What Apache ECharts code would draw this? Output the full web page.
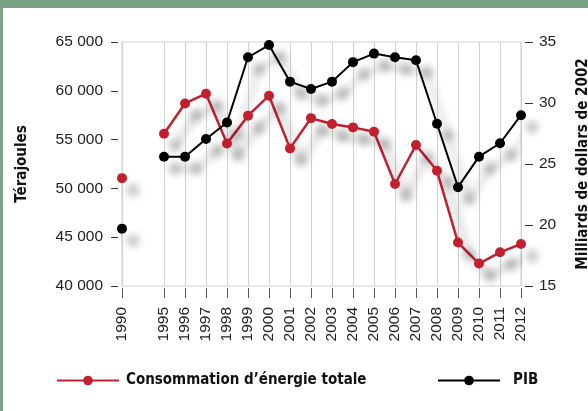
<!DOCTYPE html>
<html>
<head>
<meta charset="utf-8">
<script src="https://cdn.jsdelivr.net/npm/echarts@6/dist/echarts.min.js"></script>
<style>
html,body{margin:0;padding:0;background:#fff;}
#c{width:588px;height:411px;}
</style>
</head>
<body>
<div id="c"></div>
<script>
var years = ['1990', '', '1995', '1996', '1997', '1998', '1999', '2000', '2001', '2002', '2003', '2004', '2005', '2006', '2007', '2008', '2009', '2010', '2011', '2012'];
var energie = [51050, null, 55600, 58700, 59700, 54600, 57450, 59500, 54100, 57200, 56600, 56250, 55800, 50450, 54450, 51800, 44450, 42300, 43450, 44300];
var pib = [19.7, null, 25.6, 25.6, 27.05, 28.4, 33.75, 34.75, 31.75, 31.15, 31.75, 33.35, 34.05, 33.75, 33.5, 28.3, 23.1, 25.6, 26.7, 29.0];
var leftTicks = [40000, 65000, 5000];
var rightTicks = [15, 35, 5];
var names = ['Consommation d\u2019énergie totale', 'PIB', 'Térajoules', 'Milliards de dollars de 2002'];

var numFont = "'Liberation Sans', Arial, sans-serif";
var boldFont = "'DejaVu Sans Condensed', 'DejaVu Sans', sans-serif";
var red = '#c2202f';
var shadow = {shadowColor: 'rgba(0,0,0,0.36)', shadowBlur: 8, shadowOffsetX: 11, shadowOffsetY: 12};

function fmt(v){ return String(v).replace(/\B(?=(\d{3})+(?!\d))/g, ' '); }

var legendText = {fontFamily: boldFont, fontWeight: 'bold', fontSize: 15, color: '#111'};

var chart = echarts.init(document.getElementById('c'), null, {renderer: 'canvas'});
chart.setOption({
  backgroundColor: '#fff',
  animation: false,
  graphic: [
    {type: 'rect', left: 0, top: 0, shape: {width: 588, height: 8}, style: {fill: '#7aa385'}},
    {type: 'rect', left: 0, top: 0, shape: {width: 3, height: 411}, style: {fill: '#7aa385'}}
  ],
  grid: {left: 122, right: 67, top: 42, bottom: 125, outerBoundsMode: 'none', containLabel: false,
    show: true, borderColor: '#d2d2d2', borderWidth: 1, backgroundColor: 'transparent'},
  legend: [
    {left: 51, top: 368, itemWidth: 62, itemHeight: 12, textStyle: Object.assign({padding: [0, 0, 0, 2]}, legendText), data: [names[0]]},
    {left: 432, top: 368, itemWidth: 62, itemHeight: 12, textStyle: Object.assign({padding: [0, 0, 0, 8]}, legendText), data: [names[1]]}
  ],
  xAxis: {
    type: 'category', data: years, boundaryGap: false, offset: 2,
    axisLine: {show: false},
    axisTick: {show: true, length: 10, interval: function(i){ return i !== 1; }, lineStyle: {color: '#555', width: 1}},
    splitLine: {show: true, interval: function(i){ return i !== 1; }, lineStyle: {color: '#d2d2d2', width: 1}},
    axisLabel: {rotate: 90, interval: 0, margin: 19, fontFamily: numFont, fontSize: 15.5, color: '#222'}
  },
  yAxis: [
    {
      type: 'value', min: leftTicks[0], max: leftTicks[1], interval: leftTicks[2], offset: 4,
      name: names[2], nameLocation: 'middle', nameRotate: 90, nameGap: 88,
      nameTextStyle: {fontFamily: boldFont, fontWeight: 'bold', fontSize: 15, color: '#111'},
      axisLine: {show: false}, splitLine: {show: false},
      axisTick: {show: true, length: 7, lineStyle: {color: '#333'}},
      axisLabel: {margin: 15, fontFamily: numFont, fontSize: 15.5, color: '#222', formatter: fmt}
    },
    {
      type: 'value', min: rightTicks[0], max: rightTicks[1], interval: rightTicks[2], offset: 4, position: 'right',
      name: names[3], nameLocation: 'middle', nameRotate: 90, nameGap: 51,
      nameTextStyle: {fontFamily: boldFont, fontWeight: 'bold', fontSize: 15, color: '#111'},
      axisLine: {show: false}, splitLine: {show: false},
      axisTick: {show: true, length: 8, lineStyle: {color: '#333'}},
      axisLabel: {margin: 14, fontFamily: numFont, fontSize: 15.5, color: '#222'}
    }
  ],
  series: [
    {
      name: names[0], type: 'line', yAxisIndex: 0, data: energie, connectNulls: false,
      symbol: 'circle', symbolSize: 10, color: red,
      lineStyle: Object.assign({color: red, width: 2.5}, shadow),
      itemStyle: Object.assign({color: red}, shadow)
    },
    {
      name: names[1], type: 'line', yAxisIndex: 1, data: pib, connectNulls: false,
      symbol: 'circle', symbolSize: 10, color: '#000',
      lineStyle: Object.assign({color: '#000', width: 2}, shadow),
      itemStyle: Object.assign({color: '#000'}, shadow)
    }
  ]
});
</script>
</body>
</html>
